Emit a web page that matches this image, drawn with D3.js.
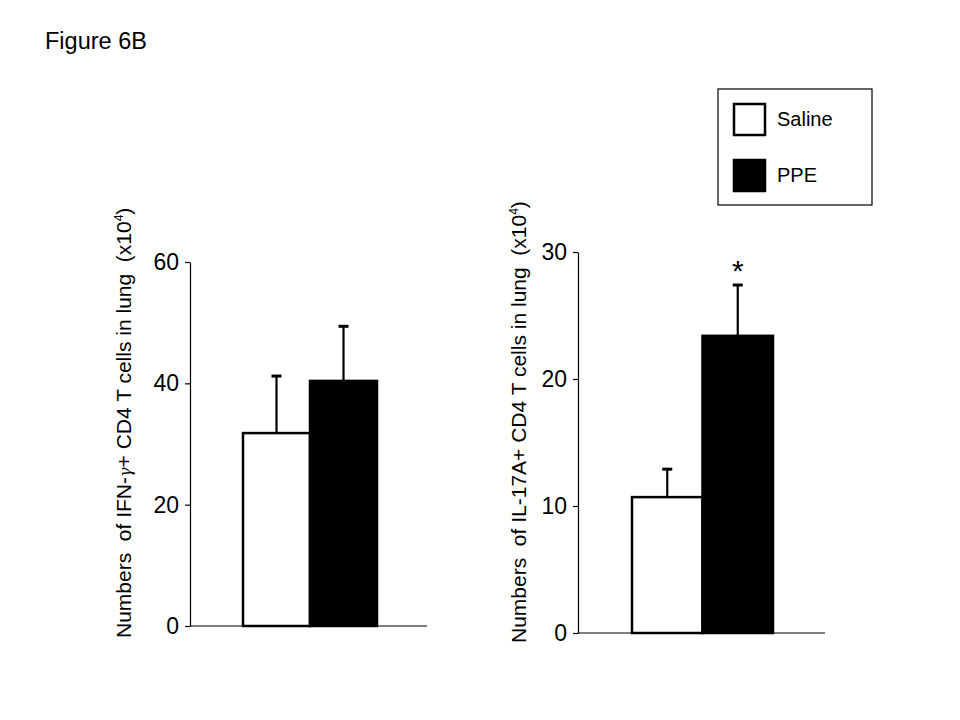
<!DOCTYPE html>
<html>
<head>
<meta charset="utf-8">
<script src="https://cdn.jsdelivr.net/npm/d3@7"></script>
<style>
  body { margin: 0; background: #fff; }
  svg { display: block; font-family: "Liberation Sans", Arial, sans-serif; }
  text { white-space: pre; }
</style>
</head>
<body>
<svg id="fig" width="960" height="720"></svg>
<script>
// values
var groups = ["Saline", "PPE"];
var groupFill = ["#ffffff", "#000000"];

var ifnMeans = [31.8, 40.4];
var ifnErrors = [9.4, 9.0];
var ifnTicks = [0, 20, 40, 60];

var il17Means = [10.7, 23.4];
var il17Errors = [2.2, 4.0];
var il17Ticks = [0, 10, 20, 30];
var il17Stars = ["", "*"];

var svg = d3.select("#fig");

svg.append("text")
    .attr("x", 45).attr("y", 49)
    .attr("font-size", 23.5)
    .text("Figure 6B");

function barPanel(opts) {
    var g = svg.append("g");

    var y = d3.scaleLinear()
        .domain([0, d3.max(opts.ticks)])
        .range([opts.bottom, opts.top]);

    var x = d3.scaleBand()
        .domain(groups)
        .range([opts.barLeft, opts.barRight])
        .padding(0);

    var yAxis = g.append("g")
        .attr("transform", "translate(" + opts.left + ",0)")
        .call(d3.axisLeft(y).tickValues(opts.ticks).tickSize(5).tickSizeOuter(0).tickPadding(6));
    yAxis.selectAll("text").attr("font-size", 23).attr("font-family", "Liberation Sans, Arial, sans-serif").attr("fill", "#000");
    yAxis.selectAll("line, path").attr("stroke", "#000").attr("stroke-width", 1.2);

    g.append("line")
        .attr("x1", opts.left).attr("x2", opts.right)
        .attr("y1", y(0)).attr("y2", y(0))
        .attr("stroke", "#000").attr("stroke-width", 1.2);

    var data = groups.map(function(name, i) {
        return { name: name, mean: opts.means[i], err: opts.errors[i], fill: groupFill[i], star: opts.stars ? opts.stars[i] : "" };
    });

    // error bars first, bars drawn over the stem base
    var eb = g.selectAll(".err").data(data).enter().append("g").attr("class", "err");
    eb.append("line")
        .attr("x1", function(d) { return x(d.name) + x.bandwidth() / 2; })
        .attr("x2", function(d) { return x(d.name) + x.bandwidth() / 2; })
        .attr("y1", function(d) { return y(d.mean); })
        .attr("y2", function(d) { return y(d.mean + d.err); })
        .attr("stroke", "#000").attr("stroke-width", 2.2);
    eb.append("line")
        .attr("x1", function(d) { return x(d.name) + x.bandwidth() / 2 - 5; })
        .attr("x2", function(d) { return x(d.name) + x.bandwidth() / 2 + 5; })
        .attr("y1", function(d) { return y(d.mean + d.err); })
        .attr("y2", function(d) { return y(d.mean + d.err); })
        .attr("stroke", "#000").attr("stroke-width", 3);

    g.selectAll(".bar").data(data).enter().append("rect")
        .attr("class", "bar")
        .attr("x", function(d) { return x(d.name); })
        .attr("width", x.bandwidth())
        .attr("y", function(d) { return y(d.mean); })
        .attr("height", function(d) { return y(0) - y(d.mean); })
        .attr("fill", function(d) { return d.fill; })
        .attr("stroke", "#000").attr("stroke-width", 2.5);

    g.selectAll(".star").data(data).enter().append("text")
        .attr("class", "star")
        .attr("x", function(d) { return x(d.name) + x.bandwidth() / 2; })
        .attr("y", function(d) { return y(d.mean + d.err) - 4; })
        .attr("text-anchor", "middle")
        .attr("font-size", 30)
        .text(function(d) { return d.star; });

    var lab = g.append("text")
        .attr("transform", "translate(" + opts.labelX + "," + opts.labelY + ") rotate(-90)")
        .attr("font-size", 21);
    lab.append("tspan").text("Numbers  of " + opts.marker);
    lab.append("tspan").attr("font-family", "DejaVu Serif, serif").attr("font-style", "italic").attr("font-size", 16).text(opts.greek || "");
    lab.append("tspan").text(opts.after + "  (x10");
    lab.append("tspan").attr("font-size", 12).attr("dy", -8).text("4");
    lab.append("tspan").attr("dy", 8).text(")");
}

barPanel({
    left: 190, right: 427, top: 262, bottom: 626,
    barLeft: 243, barRight: 377,
    ticks: ifnTicks, means: ifnMeans, errors: ifnErrors,
    labelX: 131, labelY: 638,
    marker: "IFN-", greek: "\u03b3", after: "+ CD4 T cells in lung"
});

barPanel({
    left: 578, right: 825, top: 252, bottom: 633,
    barLeft: 632, barRight: 773,
    ticks: il17Ticks, means: il17Means, errors: il17Errors, stars: il17Stars,
    labelX: 526, labelY: 643,
    marker: "IL-17A", greek: "", after: "+ CD4 T cells in lung"
});

// legend
var legend = svg.append("g");
legend.append("rect")
    .attr("x", 718).attr("y", 89).attr("width", 154).attr("height", 116)
    .attr("fill", "none").attr("stroke", "#000").attr("stroke-width", 1.2);
var items = legend.selectAll(".item").data(groups).enter().append("g")
    .attr("transform", function(d, i) { return "translate(734," + (104 + i * 56) + ")"; });
items.append("rect")
    .attr("width", 31).attr("height", 31)
    .attr("fill", function(d, i) { return groupFill[i]; })
    .attr("stroke", "#000").attr("stroke-width", 2.5);
items.append("text")
    .attr("x", 43).attr("y", 22)
    .attr("font-size", 20)
    .text(function(d) { return d; });
</script>
</body>
</html>
